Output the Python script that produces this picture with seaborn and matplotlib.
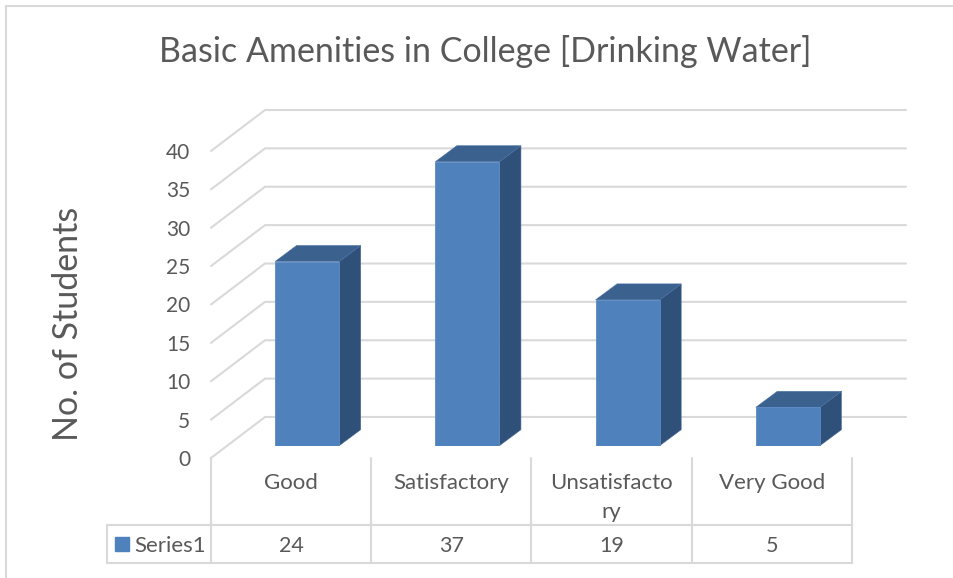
import matplotlib
matplotlib.use("Agg")
import matplotlib.pyplot as plt
from matplotlib.patches import Polygon, Rectangle
import pandas as pd
import seaborn as sns

# Data
categories = ["Good", "Satisfactory", "Unsatisfactory", "Very Good"]
category_labels = ["Good", "Satisfactory", "Unsatisfacto\nry", "Very Good"]
students = [24, 37, 19, 5]
y_ticks = [0, 5, 10, 15, 20, 25, 30, 35, 40]
series_name = "Series1"

W, H = 954, 578
GRID = "#d9d9d9"
TEXT = "#595959"
FRONT = "#4f81bd"
TOP = "#3b618f"
SIDE = "#2f5078"

sns.set_theme(style="white")
plt.rcParams["font.family"] = ["Lato", "DejaVu Sans"]

fig = plt.figure(figsize=(W / 100, H / 100), dpi=100)


def px_axes(left, right, bottom, top):
    # axes placed by its pixel box, y counted from the top of the image
    return fig.add_axes([left / W, 1 - bottom / H, (right - left) / W, (bottom - top) / H])


# front plane of the chart: y=0 sits at 458 px, y=40 at 151 px
ax = px_axes(211, 852, 458, 151)
ax.set_xlim(-0.5, 3.5)
ax.set_ylim(0, 40)
ax.patch.set_alpha(0)
sns.despine(ax=ax, left=True, bottom=True, top=True, right=True)

x_unit = 641 / 4
y_unit = 307 / 40
wall_dx = 54 / x_unit
wall_dy = 41 / y_unit
left = -0.5
right = 3.5

# gridlines on the back wall and the slanted bit on the side wall
for v in y_ticks:
    ax.plot([left, left + wall_dx, right + wall_dx], [v, v + wall_dy, v + wall_dy],
            color=GRID, lw=1.5, clip_on=False, solid_joinstyle="miter", zorder=1)

ax.set_yticks(y_ticks)
ax.set_yticklabels([str(v) for v in y_ticks], fontsize=15, color=TEXT, va="center_baseline")
ax.tick_params(axis="y", length=0, pad=15)
ax.set_xticks(range(len(categories)))
ax.set_xticklabels(category_labels, fontsize=16, color=TEXT, linespacing=1.55)
ax.tick_params(axis="x", length=0, pad=11)

# data table under the chart
table_mid = -67 / y_unit
table_bot = -104.5 / y_unit
table_left = left - 104 / x_unit
row_y = (table_mid + table_bot) / 2
for i in range(len(categories) + 1):
    ax.plot([left + i, left + i], [0, table_bot], color=GRID, lw=1.5, clip_on=False, zorder=1)
ax.plot([table_left, table_left], [table_mid, table_bot], color=GRID, lw=1.5, clip_on=False, zorder=1)
ax.plot([table_left, right], [table_mid, table_mid], color=GRID, lw=1.5, clip_on=False, zorder=1)
ax.plot([table_left, right], [table_bot, table_bot], color=GRID, lw=1.5, clip_on=False, zorder=1)
for i, v in enumerate(students):
    ax.text(i, row_y, str(v), ha="center", va="center_baseline", fontsize=15.5, color=TEXT)
ax.add_patch(Rectangle((table_left + 8 / x_unit, row_y - 7 / y_unit),
                       14 / x_unit, 14 / y_unit, color=FRONT, clip_on=False))
ax.text(table_left + 27 / x_unit, row_y, series_name, ha="left", va="center_baseline",
        fontsize=16, color=TEXT)

ax.set_ylabel("No. of Students", fontsize=24.5, color=TEXT, labelpad=0)
ax.yaxis.set_label_coords((84 - 211) / 641, (458 - 324) / 307)

# bars sit a third of the way into the floor, so they get their own shifted axes
bar_ax = px_axes(211 + 16, 852 + 16, 458 - 12.3, 151 - 12.3)
bar_ax.patch.set_alpha(0)
df = pd.DataFrame({"category": categories, "students": students})
sns.barplot(data=df, x="category", y="students", color=FRONT, saturation=1, width=0.4,
            ax=bar_ax, zorder=3)
bar_ax.set_xlim(-0.5, 3.5)
bar_ax.set_ylim(0, 40)
bar_ax.axis("off")

depth_x = 21.5 / x_unit
depth_y = 16 / y_unit
for p in list(bar_ax.patches):
    x0 = p.get_x()
    x1 = x0 + p.get_width()
    h = p.get_height()
    p.set_edgecolor("#5b8ac4")
    p.set_linewidth(0.6)
    side = [(x1, 0), (x1 + depth_x, depth_y), (x1 + depth_x, h + depth_y), (x1, h)]
    top = [(x0, h), (x0 + depth_x, h + depth_y), (x1 + depth_x, h + depth_y), (x1, h)]
    bar_ax.add_patch(Polygon(side, closed=True, facecolor=SIDE, edgecolor="#45689a", lw=0.4,
                             clip_on=False, zorder=2))
    bar_ax.add_patch(Polygon(top, closed=True, facecolor=TOP, edgecolor="#4a72a6", lw=0.4,
                             clip_on=False, zorder=2))

fig.text(485 / W, 1 - 51 / H, "Basic Amenities in College [Drinking Water]", ha="center", va="center",
         fontsize=24.5, color=TEXT)

# chart frame
fig.add_artist(plt.Line2D([6 / W, 6 / W], [0, 1 - 5.5 / H], color=GRID, lw=1.5))
fig.add_artist(plt.Line2D([6 / W, 1], [1 - 5.5 / H, 1 - 5.5 / H], color=GRID, lw=1.5))

fig.savefig("out.png", dpi=100)
